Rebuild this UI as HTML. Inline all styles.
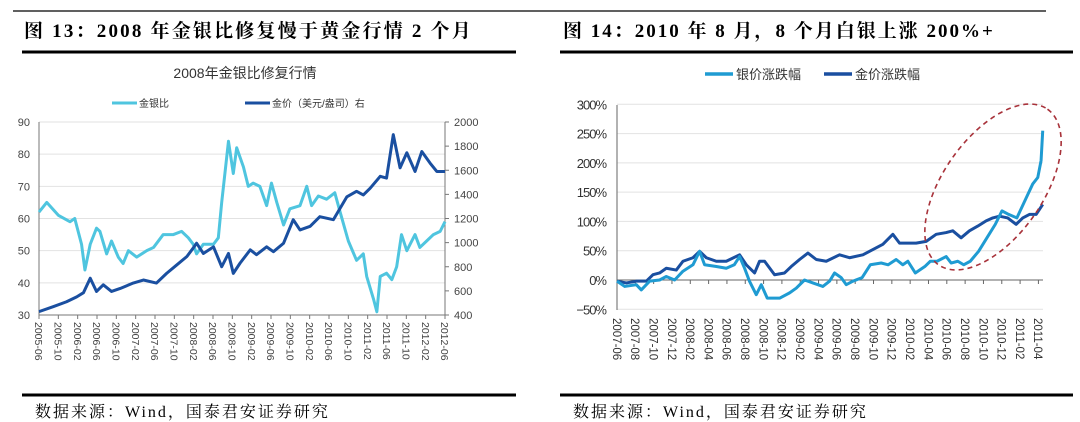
<!DOCTYPE html>
<html><head><meta charset="utf-8"><style>
body{margin:0;width:1080px;height:422px;background:#fff;overflow:hidden;font-family:"Liberation Sans","Noto Sans CJK SC",sans-serif}
svg{position:absolute;left:0;top:0}
</style></head><body>
<svg width="1080" height="422" id="s" xmlns="http://www.w3.org/2000/svg">
<g>
<line x1="13" y1="11" x2="540" y2="11" stroke="#000" stroke-width="1.2"/>
<text x="24" y="37" font-family="'Liberation Serif','Noto Serif CJK SC',serif" font-weight="bold" font-size="19" letter-spacing="2.2">图 13：2008 年金银比修复慢于黄金行情 2 个月</text>
<line x1="22" y1="52" x2="516" y2="52" stroke="#000" stroke-width="3"/>
</g>
<g>
<line x1="540" y1="11" x2="1046" y2="11" stroke="#000" stroke-width="1.2"/>
<text x="563" y="37" font-family="'Liberation Serif','Noto Serif CJK SC',serif" font-weight="bold" font-size="19" letter-spacing="2">图 14：2010 年 8 月，8 个月白银上涨 200%+</text>
<line x1="560" y1="52" x2="1073" y2="52" stroke="#000" stroke-width="3"/>
</g>
<line x1="22" y1="395" x2="516" y2="395" stroke="#000" stroke-width="3"/>
<line x1="560" y1="395" x2="1073" y2="395" stroke="#000" stroke-width="3"/>
<text x="35" y="417" font-family="'Liberation Serif','Noto Serif CJK SC',serif" font-size="16" letter-spacing="2">数据来源：Wind，国泰君安证券研究</text>
<text x="573" y="417" font-family="'Liberation Serif','Noto Serif CJK SC',serif" font-size="16" letter-spacing="2">数据来源：Wind，国泰君安证券研究</text>

<text x="245" y="78" text-anchor="middle" font-size="14" fill="#333" font-family="'Liberation Sans','Noto Sans CJK SC',sans-serif">2008年金银比修复行情</text>
<g>
<line x1="112" y1="103" x2="137" y2="103" stroke="#4fc5df" stroke-width="3"/>
<text x="139" y="107" font-size="10" fill="#333">金银比</text>
<line x1="245" y1="103" x2="270" y2="103" stroke="#1a4fa0" stroke-width="3"/>
<text x="272" y="107" font-size="10" fill="#333">金价（美元/盎司）右</text>
</g>
<g>
<line x1="705" y1="74" x2="733" y2="74" stroke="#1f9bd2" stroke-width="3.5"/>
<text x="736" y="79" font-size="13" fill="#333">银价涨跌幅</text>
<line x1="824" y1="74" x2="852" y2="74" stroke="#1a4fa0" stroke-width="3.5"/>
<text x="855" y="79" font-size="13" fill="#333">金价涨跌幅</text>
</g>
<g id="c1"></g>
<g id="c2"></g>
</svg>
<script>
// ---- Chart 13 data (month index since 2005-06) ----
const c1Ticks = ["2005-06","2005-10","2006-02","2006-06","2006-10","2007-02","2007-06","2007-10","2008-02","2008-06","2008-10","2009-02","2009-06","2009-10","2010-02","2010-06","2010-10","2011-02","2011-06","2011-10","2012-02","2012-06"];
const leftTicks = [30,40,50,60,70,80,90];
const rightTicks = [400,600,800,1000,1200,1400,1600,1800,2000];
const ratioMonths = [0,1.6,4,6.4,7.4,8.8,9.5,10.6,11.9,12.6,14,15,16.4,17.4,18.5,20.2,22.3,23.7,25.7,27.8,29.5,30.9,31.9,32.6,34,36.1,37.1,37.8,39.2,40.2,40.9,42.3,43.3,44.3,45.7,47.1,48.1,49.2,50.6,51.9,54,55.4,56.4,57.8,59.5,61.2,62.3,64,65.7,67.1,67.8,69.2,69.9,70.6,71.9,73,74,75,76.1,77.8,78.8,80.2,81.6,83,84];
const ratioValues = [62,65,61,59,60,52,44,52,57,56,49,53,48,46,50,48,50,51,55,55,56,54,52,49,52,52,54,65,84,74,82,76,70,71,70,64,71,65,58,63,64,70,64,67,66,68,62,53,47,49,42,35,31,42,43,41,45,55,50,55,51,53,55,56,59];
const goldMonths = [0,3,5.7,7.8,9.2,10.6,11.9,13.3,15,16.8,19.5,21.6,24.3,26.4,28.5,30.6,31.9,32.6,34,36.1,37.8,39.2,40.2,41.6,43.7,45,47.1,48.5,50.6,52.6,54,56.1,58.1,60.9,63.7,65.7,67.1,68.5,70.6,71.9,73.3,74.7,76.1,77.8,79.2,80.9,82.3,84];
const goldValues = [428,470,510,550,585,705,595,650,595,620,665,690,665,745,815,885,955,995,910,965,800,910,745,830,940,900,965,925,995,1190,1105,1135,1215,1190,1380,1425,1395,1450,1550,1535,1895,1620,1745,1590,1755,1660,1590,1590];
// ---- Chart 14 data (month index since 2007-06, values in %) ----
const c2Ticks = ["2007-06","2007-08","2007-10","2007-12","2008-02","2008-04","2008-06","2008-08","2008-10","2008-12","2009-02","2009-04","2009-06","2009-08","2009-10","2009-12","2010-02","2010-04","2010-06","2010-08","2010-10","2010-12","2011-02","2011-04"];
const pctTicks = [-50,0,50,100,150,200,250,300];
const silverMonths = [0,0.84,2.11,2.65,3.56,4.65,5.38,6.29,7.2,8.29,9.02,9.56,10.84,11.93,12.8,13.38,13.93,14.46,15.2,15.75,16.4,17.75,18.84,19.56,20.47,21.38,22.47,23.2,23.75,24.47,25.02,25.75,26.75,27.65,28.84,29.6,30.47,31.2,31.75,32.56,33.6,34.2,34.93,35.93,36.47,37.2,37.84,38.56,39.47,40.38,41.29,42.02,42.75,43.65,44.84,45.38,45.93,46.29,46.47];
const silverValues = [-2,-11,-8,-17,-2,0,6,0,15,26,49,26,23,20,26,40,20,-2,-25,-8,-31,-31,-22,-14,0,-5,-11,-2,12,4,-8,-2,4,26,29,26,35,26,32,12,23,32,32,40,29,32,26,32,49,72,95,118,112,106,146,164,175,204,255];
const goldChgMonths = [0,1.02,2.11,3.2,3.93,4.65,5.38,6.47,7.2,8.29,9.02,9.75,10.84,11.93,13.38,14.11,15.02,15.56,16.11,17.2,18.29,19.02,19.93,20.84,21.75,22.84,24.29,25.38,26.84,27.93,29.02,30.11,30.84,31.93,32.65,33.75,34.84,35.93,36.65,37.56,38.47,39.38,40.29,41.02,41.75,42.65,43.56,44.29,45.02,45.75,46.47];
const goldChgValues = [-2,-5,-2,-2,9,12,20,17,32,38,49,38,32,32,43,26,12,32,32,9,12,23,35,46,35,32,43,38,43,52,61,78,63,63,63,66,78,81,84,72,84,92,101,106,109,106,95,106,112,112,129];

const NS="http://www.w3.org/2000/svg";
function mk(p,tag,attrs,txt){const e=document.createElementNS(NS,tag);for(const k in attrs)e.setAttribute(k,attrs[k]);if(txt!==undefined)e.textContent=txt;p.appendChild(e);return e;}

const c1=document.getElementById('c1');
const X1=m=>39+m*(406/84), YL=v=>315-(v-30)*(193/60), YR=v=>315-(v-400)*(193/1600);
leftTicks.forEach(v=>{
  if(v>30){const g=mk(c1,'line',{x1:39,x2:445,y1:YL(v),y2:YL(v),stroke:'#e2e2e2','stroke-width':1});
  
  }
  const t=mk(c1,'text',{x:30,y:YL(v)+4,'text-anchor':'end','font-size':11,fill:'#444'},v);
  
  
});
rightTicks.forEach(v=>{
  mk(c1,'line',{x1:445,x2:449,y1:YR(v),y2:YR(v),stroke:'#777'});
  const t=mk(c1,'text',{x:454,y:YR(v)+4,'font-size':11,fill:'#444'},v);
  
  
});
mk(c1,'line',{x1:39,x2:39,y1:122,y2:315,stroke:'#777'});
mk(c1,'line',{x1:445,x2:445,y1:122,y2:315,stroke:'#777'});
c1Ticks.forEach((l,i)=>{
  const x=X1(i*4);
  mk(c1,'line',{x1:x,x2:x,y1:315,y2:319,stroke:'#777'});
  const t=mk(c1,'text',{x:0,y:0,'font-size':10.5,fill:'#444',transform:`translate(${x-3.8},322) rotate(90)`},l);
  
  
});
let p1=mk(c1,'polyline',{points:ratioMonths.map((m,i)=>X1(m)+','+YL(ratioValues[i])).join(' '),fill:'none',stroke:'#4fc5df','stroke-width':3,'stroke-linejoin':'round'});


mk(c1,'line',{x1:39,x2:445,y1:315,y2:315,stroke:'#777'});
let p2=mk(c1,'polyline',{points:goldMonths.map((m,i)=>X1(m)+','+YR(goldValues[i])).join(' '),fill:'none',stroke:'#1a4fa0','stroke-width':3,'stroke-linejoin':'round'});



const c2=document.getElementById('c2');
const X2=m=>617+m*(426/46.5), Y2=v=>280-v*0.5857;
pctTicks.forEach(v=>{
  if(v!==0){const g=mk(c2,'line',{x1:617,x2:1043,y1:Y2(v),y2:Y2(v),stroke:'#e2e2e2'});
  
  }
  const t=mk(c2,'text',{x:606,y:Y2(v)+5,'text-anchor':'end','font-size':13,'letter-spacing':'-1',fill:'#333'},(v<0?'\u2212'+(-v):v)+'%');
  
  
});
mk(c2,'line',{x1:617,x2:617,y1:105,y2:310,stroke:'#666'});
c2Ticks.forEach((l,i)=>{
  const x=X2(i*2);
  mk(c2,'line',{x1:x,x2:x,y1:280,y2:284,stroke:'#666'});
  const t=mk(c2,'text',{x:0,y:0,'font-size':11.5,fill:'#333',transform:`translate(${x-4.2},318) rotate(90)`},l);
  
  
});
mk(c2,'line',{x1:617,x2:1043,y1:280,y2:280,stroke:'#666'});
let p3=mk(c2,'polyline',{points:goldChgMonths.map((m,i)=>X2(m)+','+Y2(goldChgValues[i])).join(' '),fill:'none',stroke:'#1a4fa0','stroke-width':3,'stroke-linejoin':'round'});


let p4=mk(c2,'polyline',{points:silverMonths.map((m,i)=>X2(m)+','+Y2(silverValues[i])).join(' '),fill:'none',stroke:'#1f9bd2','stroke-width':3,'stroke-linejoin':'round'});


let el=mk(c2,'ellipse',{cx:993,cy:187,rx:95,ry:50,fill:'none',stroke:'#a8323a','stroke-width':1.6,'stroke-dasharray':'5,4',transform:'rotate(-55 993 187)'});


</script>
</body></html>
